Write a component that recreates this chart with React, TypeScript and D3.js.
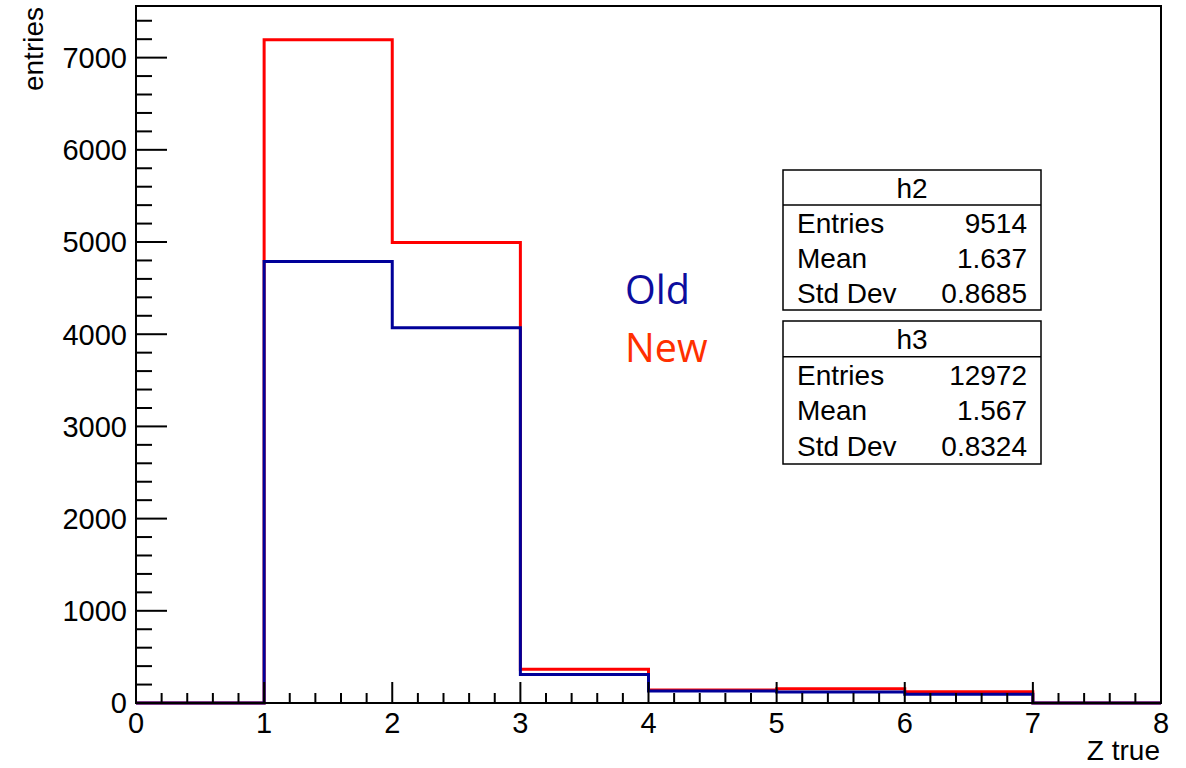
import React from 'react';
import * as d3 from 'd3';

// bin edges of the Z true histogram
const binEdges = [0, 1, 2, 3, 4, 5, 6, 7, 8];
// Old (h2) and New (h3) bin contents
const oldCounts = [0, 4790, 4070, 310, 130, 120, 94, 0];
const newCounts = [0, 7195, 4995, 365, 140, 155, 122, 0];

const yMajorTicks = [0, 1000, 2000, 3000, 4000, 5000, 6000, 7000];
const xMajorTicks = [0, 1, 2, 3, 4, 5, 6, 7, 8];

const statNames = ['h2', 'h3'];
const statLabels = ['Entries', 'Mean', 'Std Dev'];
const statsH2 = ['9514', '1.637', '0.8685'];
const statsH3 = ['12972', '1.567', '0.8324'];

const W = 1186, H = 768;
const frame = { left: 136, right: 1161, top: 6, bottom: 703 };
const font = '"Liberation Sans", Arial, Helvetica, sans-serif';

export default function App() {
  const x = d3.scaleLinear().domain([0, 8]).range([frame.left, frame.right]);
  const y = d3.scaleLinear().domain([0, 7560]).range([frame.bottom, frame.top]);

  const line = d3.line<[number, number]>()
    .x(d => x(d[0]))
    .y(d => y(d[1]))
    .curve(d3.curveStepAfter);

  const toPts = (counts: number[]): [number, number][] => {
    const pts: [number, number][] = counts.map((c, i) => [binEdges[i], c]);
    pts.push([binEdges[binEdges.length - 1], counts[counts.length - 1]]);
    return pts;
  };

  const yMinor = d3.range(0, 7560, 200).filter(v => v % 1000 !== 0);
  const xMinor = d3.range(0, 8.0001, 0.2).filter(v => Math.abs(v - Math.round(v)) > 1e-6);

  const boxes = [
    { name: statNames[0], vals: statsH2, top: 170, h: 140 },
    { name: statNames[1], vals: statsH3, top: 321, h: 143 },
  ];
  const boxL = 783, boxR = 1041;

  return (
    <svg width={W} height={H} style={{ position: 'absolute', left: 0, top: 0 }}
      fontFamily={font}>
      <rect x={0} y={0} width={W} height={H} fill="#fff" />

      {/* histograms: new first, old drawn on top */}
      <path d={line(toPts(newCounts)) || ''} fill="none" stroke="#ff0000" strokeWidth={3} />
      <path d={line(toPts(oldCounts)) || ''} fill="none" stroke="#000099" strokeWidth={3} />

      {/* frame */}
      <rect x={frame.left} y={frame.top} width={frame.right - frame.left}
        height={frame.bottom - frame.top} fill="none" stroke="#000" strokeWidth={2} />

      {/* y axis ticks */}
      {yMajorTicks.map(v => (
        <g key={'ym' + v}>
          <line x1={frame.left} x2={frame.left + 31} y1={y(v)} y2={y(v)} stroke="#000" strokeWidth={2} />
          <text x={127} y={y(v)} dy="0.36em" textAnchor="end" fontSize={29}>{v}</text>
        </g>
      ))}
      {yMinor.map(v => (
        <line key={'yn' + v} x1={frame.left} x2={frame.left + 16} y1={y(v)} y2={y(v)} stroke="#000" strokeWidth={2} />
      ))}

      {/* x axis ticks */}
      {xMajorTicks.map(v => (
        <g key={'xm' + v}>
          <line x1={x(v)} x2={x(v)} y1={frame.bottom} y2={frame.bottom - 21} stroke="#000" strokeWidth={2} />
          <text x={x(v)} y={733} textAnchor="middle" fontSize={29}>{v}</text>
        </g>
      ))}
      {xMinor.map(v => (
        <line key={'xn' + v.toFixed(1)} x1={x(v)} x2={x(v)} y1={frame.bottom} y2={frame.bottom - 10} stroke="#000" strokeWidth={2} />
      ))}

      {/* axis titles */}
      <text x={1160} y={760} textAnchor="end" fontSize={28}>Z true</text>
      <text transform="translate(43,7) rotate(-90)" textAnchor="end" fontSize={28}>entries</text>

      {/* legend text */}
      <text x={625} y={304} fontSize={39.5} fill="#0d0d9e" fontFamily='"Open Sans", sans-serif'>Old</text>
      <text x={625} y={362} fontSize={39.5} fill="#ff3000" fontFamily='"Open Sans", sans-serif'>New</text>

      {/* stats boxes */}
      {boxes.map(b => {
        const rh = b.h / 4;
        return (
          <g key={b.name}>
            <rect x={boxL} y={b.top} width={boxR - boxL} height={b.h} fill="#fff" stroke="#000" strokeWidth={1.5} />
            <line x1={boxL} x2={boxR} y1={b.top + rh} y2={b.top + rh} stroke="#000" strokeWidth={1.5} />
            <text x={(boxL + boxR) / 2} y={b.top + rh / 2} dy="0.36em" textAnchor="middle" fontSize={28}>{b.name}</text>
            {statLabels.map((lab, i) => (
              <g key={lab}>
                <text x={797} y={b.top + rh * (i + 1.5)} dy="0.36em" fontSize={28}>{lab}</text>
                <text x={1027} y={b.top + rh * (i + 1.5)} dy="0.36em" textAnchor="end" fontSize={28}>{b.vals[i]}</text>
              </g>
            ))}
          </g>
        );
      })}
    </svg>
  );
}
